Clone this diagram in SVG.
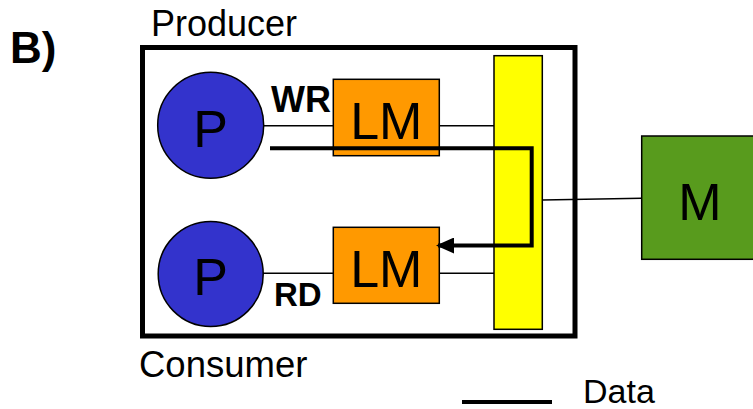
<svg xmlns="http://www.w3.org/2000/svg" width="753" height="409" viewBox="0 0 753 409">
<style>
.t{font-family:"Liberation Sans",Arial,sans-serif;fill:#000}
.b{font-weight:bold}
.thin{stroke:#000;stroke-width:1.5;fill:none}
.data{stroke:#000;stroke-width:4;fill:none}
.lm{fill:#FF9900;stroke:#000;stroke-width:1.5}
.p{fill:#3333CC;stroke:#000;stroke-width:1.5}
</style>
<defs>
<marker id="ah" markerUnits="userSpaceOnUse" markerWidth="18" markerHeight="16" refX="16" refY="8" orient="auto">
<path d="M0,0 L18,8 L0,16 Z" fill="#000"/>
</marker>
</defs>
<rect width="753" height="409" fill="#fff"/>
<text class="t b" x="10" y="63" font-size="44">B)</text>
<text class="t" x="151" y="36" font-size="36">Producer</text>
<text class="t" x="139" y="376.5" font-size="36.5">Consumer</text>
<g id="container"><rect x="142.5" y="47.5" width="432.5" height="288.5" fill="none" stroke="#000" stroke-width="5"/></g>
<g id="connectors">
<line class="thin" x1="260" y1="125.7" x2="333.3" y2="125.7"/>
<line class="thin" x1="439.3" y1="125.7" x2="494" y2="125.7"/>
<line class="thin" x1="260" y1="273.3" x2="333.3" y2="273.3"/>
<line class="thin" x1="439.3" y1="273.3" x2="494" y2="273.3"/>
<line class="thin" x1="542.3" y1="200" x2="641.7" y2="198.3"/>
</g>
<g id="yellow"><rect x="494" y="55.7" width="48.3" height="273.6" fill="#FFFF00" stroke="#000" stroke-width="1.5"/></g>
<g id="p1"><circle class="p" cx="210.7" cy="125.3" r="53"/><text class="t" x="210.7" y="146.7" font-size="52" text-anchor="middle">P</text></g>
<g id="p2"><circle class="p" cx="210.7" cy="274" r="52.5"/><text class="t" x="210.7" y="295" font-size="52" text-anchor="middle">P</text></g>
<g id="lm1"><rect class="lm" x="333.3" y="79.3" width="106" height="76.4"/><text class="t" x="386.3" y="139.3" font-size="52" text-anchor="middle">LM</text></g>
<g id="lm2"><rect class="lm" x="333.3" y="227.3" width="106" height="76"/><text class="t" x="386.3" y="286.7" font-size="52" text-anchor="middle">LM</text></g>
<g id="m"><rect x="641.7" y="136" width="120" height="123.3" fill="#589B1D" stroke="#000" stroke-width="1.5"/><text class="t" x="700" y="220" font-size="52" text-anchor="middle">M</text></g>
<text class="t b" x="271" y="111.7" font-size="36">WR</text>
<text class="t b" x="274" y="306" font-size="33">RD</text>
<g id="data-flow">
<polyline class="data" points="270,148.3 531.7,148.3 531.7,245.5 438,245.5" marker-end="url(#ah)"/>
</g>
<g id="legend">
<line class="data" x1="462" y1="402" x2="552" y2="402"/>
<text class="t" x="583" y="403" font-size="34">Data</text>
</g>
</svg>
